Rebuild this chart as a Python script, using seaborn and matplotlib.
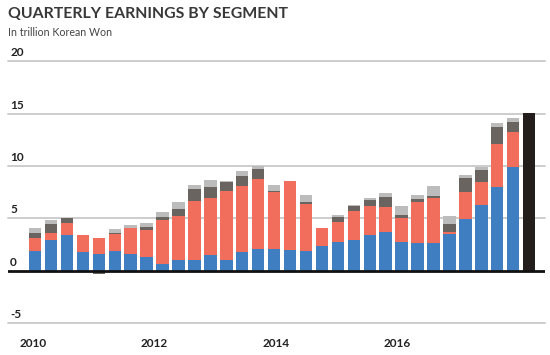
import numpy as np
import matplotlib
matplotlib.use("Agg")
import matplotlib.pyplot as plt
import matplotlib.transforms as mtransforms
import seaborn as sns

# quarterly operating profit by segment, trillion won, 2010Q1 .. 2017Q4
quarters = [f"{y}Q{q}" for y in range(2010, 2018) for q in range(1, 5)]

semis = [1.93, 2.95, 3.43, 1.78, 1.62, 1.84, 1.62, 1.30,
         0.67, 1.05, 1.05, 1.46, 1.05, 1.78, 2.10, 2.05,
         1.94, 1.84, 2.32, 2.73, 2.98, 3.37, 3.68, 2.79,
         2.63, 2.63, 3.52, 4.95, 6.32, 8.03, 9.94, 0]
mobile = [1.17, 0.65, 1.14, 1.62, 1.48, 1.68, 2.48, 2.63,
          4.22, 4.15, 5.65, 5.46, 6.54, 6.29, 6.66, 5.51,
          6.60, 4.54, 1.78, 1.97, 2.70, 2.85, 2.45, 2.26,
          3.91, 4.32, 0.16, 2.54, 2.12, 4.13, 3.36, 0]
display = [0.50, 0.88, 0.43, 0.05, -0.30, 0.05, 0.00, 0.23,
           0.21, 0.70, 1.10, 1.05, 0.85, 1.01, 0.95, 0.09,
           0.00, 0.22, 0.00, 0.47, 0.54, 0.54, 0.89, 0.28,
           0.32, 0.16, 0.80, 1.34, 1.21, 1.62, 0.92, 0]
consumer = [0.47, 0.32, -0.10, 0.00, 0.00, 0.38, 0.28, 0.41,
            0.49, 0.70, 0.40, 0.70, 0.16, 0.47, 0.32, 0.55,
            0.00, 0.67, 0.00, 0.16, 0.08, 0.16, 0.38, 0.83,
            0.41, 1.02, 0.79, 0.31, 0.29, 0.32, 0.41, 0]
estimate = [0] * 31 + [15.1]

segments = [semis, mobile, display, consumer, estimate]
colors = ["#3f7ec0", "#f06e5b", "#6a6461", "#bdbcbc", "#231e1b"]

year_ticks = [-0.1, 7.5, 15.1, 22.7]
year_labels = ["2010", "2012", "2014", "2016"]
y_ticks = [-5, 0, 5, 10, 15, 20]

sns.set_style("white")
plt.rcParams["font.family"] = ["Lato", "DejaVu Sans"]

fig = plt.figure(figsize=(5.5, 3.55), dpi=100)
ax = fig.add_axes([0.0145, 0.0901, 0.9765, 0.7367])

x = np.arange(len(quarters))
pos_base = np.zeros(len(x))
neg_base = np.zeros(len(x))
for vals, col in zip(segments, colors):
    v = np.array(vals, dtype=float)
    bottom = np.where(v >= 0, pos_base, neg_base)
    sns.barplot(x=x, y=v, bottom=bottom, native_scale=True, orient="x",
                color=col, width=0.78, linewidth=0, errorbar=None,
                saturation=1, ax=ax, zorder=3)
    pos_base += np.where(v > 0, v, 0)
    neg_base += np.where(v < 0, v, 0)

ax.set_xlim(-1.7, 32.0)
ax.set_ylim(-5, 20)
for s in ax.spines.values():
    s.set_visible(False)

# gridlines, zero line in black
for t in y_ticks:
    if t == 0:
        ax.axhline(0, color="#111111", lw=2, zorder=4)
    else:
        ax.axhline(t, color="#c9c9c9", lw=1.3, zorder=1, clip_on=False)

# y labels sit above each gridline
off = mtransforms.offset_copy(ax.get_yaxis_transform(), fig=fig, x=0, y=2.2, units="points")
for t in y_ticks:
    ax.text(0.004, t, str(t), transform=off, ha="left", va="bottom",
            fontsize=8.5, fontweight="bold", color="#222222")
ax.set_yticks([])

ax.set_xticks(year_ticks)
ax.set_xticklabels(year_labels)
ax.tick_params(axis="x", length=4, width=1, color="#c9c9c9", pad=7,
               labelsize=8.5, labelcolor="#222222")
for lab in ax.get_xticklabels():
    lab.set_fontweight("bold")
ax.set_xlabel("")
ax.set_ylabel("")

fig.text(0.0145, 0.949, "QUARTERLY EARNINGS BY SEGMENT", ha="left", va="baseline",
         fontsize=11.4, fontweight="bold", color="#383838")
fig.text(0.0145, 0.899, "In trillion Korean Won", ha="left", va="baseline",
         fontsize=7.7, color="#444444")

fig.savefig("out.png", dpi=100)
